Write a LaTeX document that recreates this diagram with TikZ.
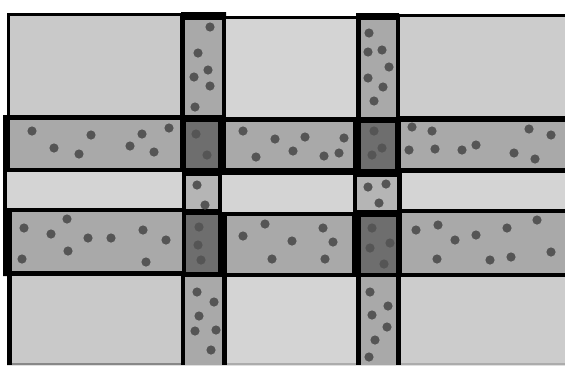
\documentclass[tikz,border=0pt]{standalone}
\usepackage{tikz}
\definecolor{cellA}{HTML}{C9C9C9}
\definecolor{cellB}{HTML}{D4D4D4}
\definecolor{cellC}{HTML}{CCCCCC}
\definecolor{bandgray}{HTML}{A9A9A9}
\definecolor{colmid}{HTML}{B5B5B5}
\definecolor{darkgray}{HTML}{6E6E6E}
\definecolor{dotgray}{HTML}{555555}
\definecolor{edgegray}{HTML}{888888}
\tikzset{
  cell/.style={fill=#1},
  dot/.style={fill=dotgray},
}
\begin{document}
\begin{tikzpicture}[x=1pt,y=-1pt]
\useasboundingbox (0,0) rectangle (565,365);
% black frame background
\fill[black] (7,13) -- (181,13) -- (181,12) -- (226,12) -- (226,16) -- (356,16) -- (356,13)
  -- (399,13) -- (399,14) -- (565,14) -- (565,365) -- (7,365) -- (7,276) -- (3,276)
  -- (3,115) -- (7,115) -- cycle;
% top row
\fill[cellA] (10,16) rectangle (180,115);
\fill[bandgray] (185,20) rectangle (222,115);
\fill[cellB] (226,19) rectangle (356,117);
\fill[bandgray] (361,20) rectangle (396,117);
\fill[cellC] (400,17) rectangle (565,116);
% band 1
\fill[bandgray] (10,120) rectangle (180,168);
\fill[darkgray] (186,122) rectangle (218,168);
\fill[bandgray] (226,122) rectangle (353,168);
\fill[darkgray] (361,123) rectangle (395,169);
\fill[bandgray] (401,122) rectangle (565,168);
% middle row
\fill[cellB] (7,172) rectangle (182,208);
\fill[colmid] (186,176) rectangle (218,209);
\fill[cellB] (222,175) rectangle (353,212);
\fill[colmid] (357,177) rectangle (397,210);
\fill[cellB] (402,173) rectangle (565,209);
% band 2
\fill[bandgray] (12,212) rectangle (182,271);
\fill[darkgray] (186,215) rectangle (218,272);
\fill[bandgray] (227,216) rectangle (352,273);
\fill[darkgray] (361,217) rectangle (396,273);
\fill[bandgray] (402,213) rectangle (565,273);
% bottom row
\fill[cellA] (12,276) rectangle (181,363);
\fill[bandgray] (185,277) rectangle (222,365);
\fill[cellB] (227,277) rectangle (356,363);
\fill[bandgray] (361,277) rectangle (396,365);
\fill[cellC] (401,277) rectangle (565,363);
\fill[edgegray] (12,363) rectangle (181,365);
\fill[edgegray!70!white] (227,363) rectangle (356,365);
\fill[edgegray!70!white] (401,363) rectangle (565,365);
% dots
\foreach \p in {(210,27),(198,53),(208,70),(194,77),(210,86),(195,107),
  (32,131),(54,148),(79,154),(91,135),(130,146),(142,134),(154,152),(169,128),
  (196,134),(207,155),
  (369,33),(368,52),(382,50),(389,67),(368,78),(383,87),(374,101),
  (243,131),(256,157),(275,139),(293,151),(305,137),(324,156),(339,153),(344,138),
  (374,131),(382,148),(372,155),
  (412,127),(432,131),(409,150),(435,149),(462,150),(476,145),(514,153),(529,129),(535,159),(551,135),
  (197,185),(205,205),
  (24,228),(51,234),(67,219),(68,251),(22,259),(88,238),(111,238),(143,230),(146,262),(166,240),
  (199,227),(198,245),(201,260),
  (197,292),(214,302),(199,316),(195,331),(216,330),(211,350),
  (368,187),(386,184),(379,203),
  (243,236),(265,224),(272,259),(292,241),(323,228),(333,242),(325,259),
  (372,228),(370,248),(390,243),(384,264),
  (416,230),(438,225),(437,259),(455,240),(476,235),(490,260),(507,228),(511,257),(537,220),(551,252),
  (370,292),(388,306),(372,315),(387,327),(375,340),(369,357)}
  \fill[dot] \p circle[radius=4.6pt];
\end{tikzpicture}
\end{document}
